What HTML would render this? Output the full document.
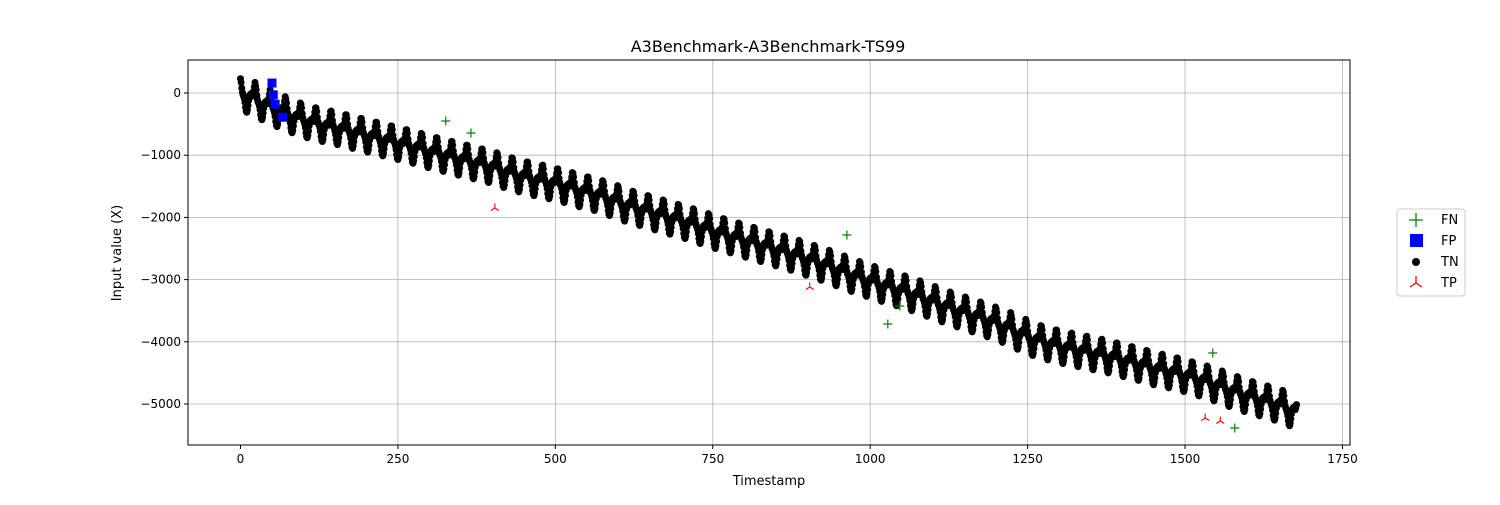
<!DOCTYPE html>
<html><head><meta charset="utf-8"><style>
body{margin:0;background:#fff;font-family:"Liberation Sans","DejaVu Sans",sans-serif;}
svg text{font-family:"DejaVu Sans","Liberation Sans",sans-serif;}
</style></head><body>
<svg id="chart" width="1500" height="500" viewBox="0 0 1500 500" xmlns="http://www.w3.org/2000/svg">
<rect width="1500" height="500" fill="#fff"/>
<g id="grid"></g><g id="marks"></g><g id="axes"></g>
<text x="768" y="52" font-size="16" text-anchor="middle">A3Benchmark-A3Benchmark-TS99</text>
<text x="769" y="485" font-size="13" text-anchor="middle">Timestamp</text>
<text x="121" y="253" font-size="13" text-anchor="middle" transform="rotate(-90 121 253)">Input value (X)</text>
<g>
<rect x="1397" y="209" width="68" height="87" rx="3" fill="#fff" stroke="#ccc"/>
<g><path d="M1409 220h14M1416 213v14" stroke="green" stroke-width="1.3"/><text x="1441" y="224" font-size="13">FN</text></g>
<g><rect x="1410" y="234" width="13" height="13" fill="blue"/><text x="1441" y="245" font-size="13">FP</text></g>
<g><circle cx="1416" cy="262" r="4" fill="#000"/><text x="1441" y="266" font-size="13">TN</text></g>
<g><path d="M1416 283v-7M1416 283l-6 4M1416 283l6 4" stroke="red" stroke-width="1.3" fill="none"/><text x="1441" y="287" font-size="13">TP</text></g>
</g>
</svg>
<script>
const dailyLevel=[-30,-150,-260,-360,-440,-500,-550,-610,-670,-730,-790,-850,-920,-980,-1040,-1100,-1160,-1240,-1310,-1370,-1420,-1480,-1550,-1610,-1690,-1780,-1850,-1920,-1990,-2060,-2140,-2220,-2290,-2360,-2430,-2500,-2570,-2650,-2730,-2820,-2910,-2990,-3070,-3140,-3220,-3310,-3400,-3480,-3560,-3640,-3730,-3840,-3940,-4010,-4070,-4120,-4170,-4220,-4280,-4340,-4410,-4460,-4520,-4590,-4670,-4760,-4840,-4910,-4980,-5070];
const hourlyShape=[260,200,110,40,0,-20,-60,-120,-200,-260,-280,-240,-170,-90,-30,0,10,20,0,-20,10,60,130,200];
const fnT=[326,366,963,1028,1047,1544,1579];
const fnV=[-450,-643,-2283,-3714,-3424,-4180,-5386];
const fpT=[50,52,55,67];
const fpV=[160,-30,-180,-390];
const tpT=[404,904,1532,1556];
const tpV=[-1849,-3119,-5225,-5273];
const xTicks=[0,250,500,750,1000,1250,1500,1750];
const yTicks=[0,-1000,-2000,-3000,-4000,-5000];
const NS='http://www.w3.org/2000/svg';
const L=188,R=1350,T=60,B=445;
const X=v=>240.5+v*0.6297;
const Y=v=>93-v*0.0622;
function mk(tag,attrs,parent){const e=document.createElementNS(NS,tag);for(const k in attrs)e.setAttribute(k,attrs[k]);parent.appendChild(e);return e;}
const grid=document.getElementById('grid'),marks=document.getElementById('marks'),axes=document.getElementById('axes');
xTicks.forEach(t=>{const x=X(t);
 if(t>0&&x<R){const g=mk('line',{x1:x,x2:x,y1:T,y2:B,stroke:'#b0b0b0','stroke-width':0.8},grid);}
 mk('line',{x1:x,x2:x,y1:B,y2:B+4,stroke:'#000'},axes);
 const tx=mk('text',{x:x,y:B+18,'font-size':12,'text-anchor':'middle'},axes);tx.textContent=t;
 
 
});
yTicks.forEach(t=>{const y=Y(t);
 const g=mk('line',{x1:L,x2:R,y1:y,y2:y,stroke:'#b0b0b0','stroke-width':0.8},grid);
 
 
 mk('line',{x1:L-4,x2:L,y1:y,y2:y,stroke:'#000'},axes);
 const tx=mk('text',{x:L-7,y:y+4,'font-size':12,'text-anchor':'end'},axes);tx.textContent=(t<0?'\u2212'+(-t):t);
 
 
});
const fr=mk('rect',{x:L,y:T,width:R-L,height:B-T,fill:'none',stroke:'#000','stroke-width':1},axes);


const tn=mk('g',{fill:'#000'},marks);


dailyLevel.forEach((lv,d)=>hourlyShape.forEach((s,h)=>{const t=d*24+h;if(t>1677)return;
 mk('circle',{cx:X(t),cy:Y(lv+s),r:3.5},tn);}));
const fp=mk('g',{fill:'blue'},marks);


fpT.forEach((t,i)=>mk('rect',{x:X(t)-4.5,y:Y(fpV[i])-4.5,width:9,height:9},fp));
const fn=mk('g',{stroke:'green','stroke-width':1.2},marks);


fnT.forEach((t,i)=>{const x=X(t),y=Y(fnV[i]);mk('path',{d:`M${x-4.5} ${y}h9M${x} ${y-4.5}v9`},fn);});
const tp=mk('g',{stroke:'red','stroke-width':1.1,fill:'none'},marks);


tpT.forEach((t,i)=>{const x=X(t),y=Y(tpV[i]);mk('path',{d:`M${x} ${y}v-4.5M${x} ${y}l-4 2.5M${x} ${y}l4 2.5`},tp);});
</script>
</body></html>
